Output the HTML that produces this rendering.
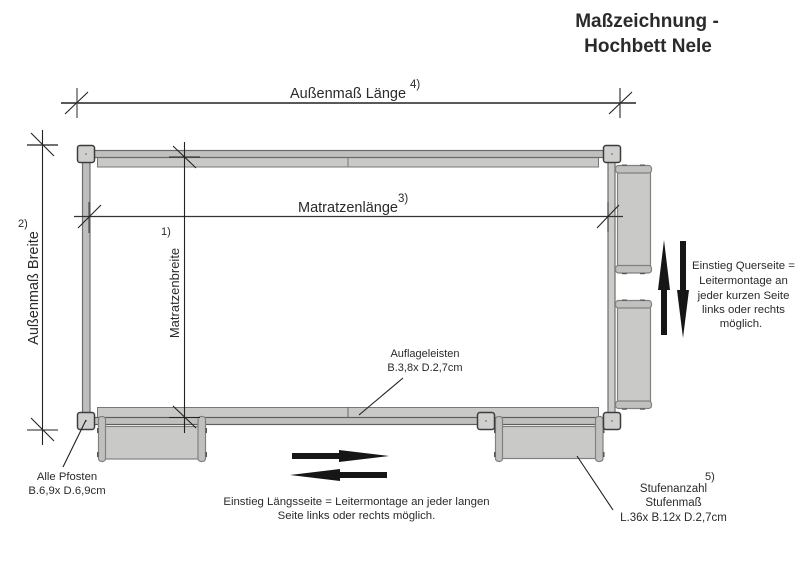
<!DOCTYPE html>
<html><head><meta charset="utf-8">
<style>
html,body{margin:0;padding:0;background:#fff;width:800px;height:566px;overflow:hidden}
svg{display:block}
text{font-family:"Liberation Sans",sans-serif;fill:#2a2a2a}
</style></head><body>
<svg width="800" height="566" viewBox="0 0 800 566" xmlns="http://www.w3.org/2000/svg">
<defs>
<g id="post"><rect x="0.5" y="0.5" width="17" height="17" rx="2.5" fill="#cfd0ce" stroke="#3c3c3c" stroke-width="1.500"/><rect x="8" y="8" width="2" height="2" fill="#999"/></g>
</defs>
<!-- ledges -->
<rect x="97.5" y="155" width="501" height="12" fill="#c9cac8" stroke="#777"/>
<rect x="97.5" y="407.5" width="501" height="12" fill="#c9cac8" stroke="#777"/>
<line x1="348" y1="157" x2="348" y2="167" stroke="#777"/>
<line x1="348" y1="407" x2="348" y2="417" stroke="#666"/>
<!-- rails -->
<rect x="90" y="150.5" width="516" height="7" fill="#c0c1bf" stroke="#6a6a6a" stroke-width="1.200"/>
<rect x="90" y="417.5" width="516" height="7" fill="#c0c1bf" stroke="#5e5e5e" stroke-width="1.200"/>
<rect x="82.5" y="158" width="7.500" height="258" fill="#bebfbd" stroke="#6e6e6e" stroke-width="1.200"/>
<rect x="608" y="158" width="7" height="258" fill="#cbccca" stroke="#6e6e6e" stroke-width="1.200"/>
<!-- long side ladders -->
<g fill="#c9cac8" stroke="#808080" stroke-width="1.200">
<rect x="104" y="426.500" width="95" height="32.500"/>
<rect x="98.500" y="416.500" width="7" height="45" rx="3" fill="#c0c1bf"/>
<rect x="198" y="416.500" width="7.500" height="45" rx="3" fill="#c0c1bf"/>
<rect x="501" y="426.500" width="95" height="32"/>
<rect x="495.500" y="416.500" width="7" height="45" rx="3" fill="#c0c1bf"/>
<rect x="595.500" y="416.500" width="7.500" height="45" rx="3" fill="#c0c1bf"/>
<!-- short side ladders -->
<rect x="617.500" y="172" width="33" height="94"/>
<rect x="615.500" y="165.500" width="36" height="7.500" rx="3" fill="#c0c1bf"/>
<rect x="615.500" y="265.500" width="36" height="7.500" rx="3" fill="#c0c1bf"/>
<rect x="617.500" y="307" width="33" height="95"/>
<rect x="615.500" y="300.500" width="36" height="7.500" rx="3" fill="#c0c1bf"/>
<rect x="615.500" y="401" width="36" height="7.500" rx="3" fill="#c0c1bf"/>
</g>
<!-- bolts -->
<g fill="#555">
<rect x="97" y="428" width="1.500" height="5"/><rect x="97" y="452" width="1.500" height="5"/>
<rect x="205.500" y="428" width="1.500" height="5"/><rect x="205.500" y="452" width="1.500" height="5"/>
<rect x="494" y="428" width="1.500" height="5"/><rect x="494" y="452" width="1.500" height="5"/>
<rect x="603" y="428" width="1.500" height="5"/><rect x="603" y="452" width="1.500" height="5"/>
<rect x="622" y="164.500" width="5" height="1.200"/><rect x="640" y="164.500" width="5" height="1.200"/>
<rect x="622" y="273" width="5" height="1.200"/><rect x="640" y="273" width="5" height="1.200"/>
<rect x="622" y="299.500" width="5" height="1.200"/><rect x="640" y="299.500" width="5" height="1.200"/>
<rect x="622" y="408.500" width="5" height="1.200"/><rect x="640" y="408.500" width="5" height="1.200"/>
</g>
<!-- posts -->
<use href="#post" x="77" y="145"/>
<use href="#post" x="603" y="145"/>
<use href="#post" x="77" y="412"/>
<use href="#post" x="477" y="412"/>
<use href="#post" x="603" y="412"/>
<!-- dimensions -->
<g stroke="#222" stroke-width="1.100" fill="none">
<line x1="61" y1="103" x2="636" y2="103" stroke-width="1.500"/>
<line x1="77" y1="88" x2="77" y2="118" stroke="#666" stroke-width="1.400"/>
<line x1="65" y1="114" x2="88" y2="92"/>
<line x1="620" y1="88" x2="620" y2="118" stroke="#555" stroke-width="1.400"/>
<line x1="609" y1="114" x2="632" y2="92"/>
<line x1="42.500" y1="130" x2="42.500" y2="445"/>
<line x1="27" y1="145" x2="58" y2="145" stroke="#444" stroke-width="1.400"/>
<line x1="31" y1="133" x2="54" y2="156"/>
<line x1="27" y1="430" x2="58" y2="430"/>
<line x1="31" y1="418" x2="54" y2="441"/>
<line x1="74" y1="216.500" x2="623" y2="216.500" stroke="#333" stroke-width="1.300"/>
<line x1="89" y1="202" x2="89" y2="233" stroke="#444"/>
<line x1="78" y1="228" x2="101" y2="205"/>
<line x1="608" y1="202" x2="608" y2="232" stroke="#444"/>
<line x1="597" y1="228" x2="619" y2="205"/>
<line x1="184.500" y1="142" x2="184.500" y2="433"/>
<line x1="169" y1="157" x2="200" y2="157"/>
<line x1="173" y1="146" x2="196" y2="168"/>
<line x1="169" y1="417.500" x2="200" y2="417.500"/>
<line x1="173" y1="406" x2="196" y2="428"/>
<!-- leaders -->
<line x1="86" y1="420" x2="63" y2="467"/>
<line x1="359" y1="415" x2="403" y2="378"/>
<line x1="577" y1="456" x2="613" y2="510"/>
</g>
<!-- block arrows -->
<g fill="#161616">
<polygon points="664,240 670,290 667,290 667,335 661,335 661,290 658,290"/>
<polygon points="683,338 689,290 686,290 686,241 680,241 680,290 677,290"/>
<polygon points="389,456 339,450 339,453 292,453 292,459 339,459 339,462"/>
<polygon points="290,475 340,469 340,472 387,472 387,478 340,478 340,481"/>
</g>
<!-- text -->
<g text-anchor="middle">
<text x="647" y="27" font-size="19" font-weight="bold" fill="#222">Maßzeichnung -</text>
<text x="648" y="52" font-size="19" font-weight="bold" fill="#222">Hochbett Nele</text>
<text x="348" y="98" font-size="14.500">Außenmaß Länge</text>
<text x="348" y="212" font-size="14.500">Matratzenlänge</text>
<text transform="translate(38,288) rotate(-90)" font-size="14.500">Außenmaß Breite</text>
<text transform="translate(179,293) rotate(-90)" font-size="13">Matratzenbreite</text>
<text x="425" y="357" font-size="11">Auflageleisten</text>
<text x="425" y="371" font-size="11">B.3,8x D.2,7cm</text>
<text x="67" y="480" font-size="11.300">Alle Pfosten</text>
<text x="67" y="494" font-size="11.300">B.6,9x D.6,9cm</text>
<text x="356.500" y="505" font-size="11.400">Einstieg Längsseite = Leitermontage an jeder langen</text>
<text x="356.500" y="519" font-size="11.400">Seite links oder rechts möglich.</text>
<text x="743.500" y="269" font-size="11.400">Einstieg Querseite =</text>
<text x="743.500" y="284" font-size="11.400">Leitermontage an</text>
<text x="743.500" y="299" font-size="11.400">jeder kurzen Seite</text>
<text x="743.500" y="313" font-size="11.400">links oder rechts</text>
<text x="741" y="327" font-size="11.400">möglich.</text>
<text x="673.500" y="492" font-size="11.500">Stufenanzahl</text>
<text x="673.500" y="506" font-size="11.500">Stufenmaß</text>
<text x="673.500" y="521" font-size="11.500">L.36x B.12x D.2,7cm</text>
</g>
<text x="410" y="88" font-size="11.500">4)</text>
<text x="398" y="202" font-size="11.500">3)</text>
<text x="18" y="227" font-size="11">2)</text>
<text x="161" y="235" font-size="11">1)</text>
<text x="705" y="480" font-size="11">5)</text>
</svg>
</body></html>
